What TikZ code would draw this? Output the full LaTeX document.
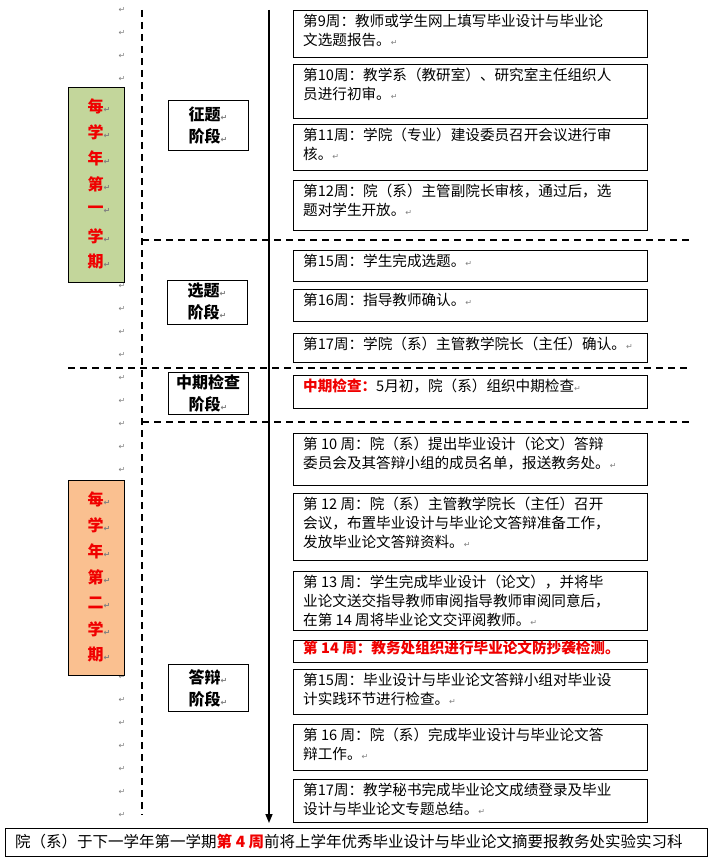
\documentclass[tikz,border=0pt]{standalone}
\usepackage{fontspec}
\setmainfont{Noto Sans CJK SC}
\newfontfamily\djv{DejaVu Sans}
\usetikzlibrary{arrows.meta}
\definecolor{gbox}{HTML}{C3D69B}
\definecolor{obox}{HTML}{FAC090}
\definecolor{rd}{HTML}{F00000}
\newcommand{\pmk}{{\djv\fontsize{8}{8}\selectfont\textcolor{gray}{↵}}}
\tikzset{
 wk/.style={draw,line width=0.8pt,fill=white},
 wt/.style={anchor=north west,align=left,inner sep=0pt,font=\fontsize{14.6}{19}\selectfont},
 stg/.style={draw,line width=0.8pt,fill=white,align=center,font=\bfseries\fontsize{16}{22}\selectfont,inner sep=0pt},
 dsh/.style={dashed,line width=1.3pt,dash pattern=on 7pt off 5pt},
}
\begin{document}
\begin{tikzpicture}[x=1pt,y=-1pt]
\useasboundingbox (0,0) rectangle (714,861);
\fill[white] (0,0) rectangle (714,861);
% margin marks
\foreach \k in {0,...,35}{\node[inner sep=0pt] (pm\k) at (122,{10+23*\k}) {\pmk};}
% dashed lines
\draw[dsh] (142,10) -- (142,815);
\draw[dsh] (142,240) -- (690,240);
\draw[dsh] (68,368) -- (690,368);
\draw[dsh] (142,422) -- (690,422);
% timeline arrow
\coordinate (ta) at (269,10); \coordinate (tb) at (269,823);
\draw[line width=1.5pt,-{Triangle[length=9pt,width=7pt]}] (ta) -- (tb);
% semester boxes
\draw[line width=0.8pt,fill=gbox] (68,87) rectangle (124,282);
\draw[line width=0.8pt,fill=obox] (68,480) rectangle (124,675);
\foreach \c [count=\i] in {每,学,年,第,一,学,期}{
 \node[text=rd,font=\bfseries\fontsize{16}{16}\selectfont] (s1\i) at (99,{106+26*(\i-1)}) {\c\pmk};
}
\foreach \c [count=\i] in {每,学,年,第,二,学,期}{
 \node[text=rd,font=\bfseries\fontsize{16}{16}\selectfont] (s2\i) at (99,{499+26*(\i-1)}) {\c\pmk};
}
% stage boxes
\node[stg,minimum width=80pt,minimum height=50pt] (st1) at (208,125) {征题\pmk\\阶段\pmk};
\node[stg,minimum width=80pt,minimum height=44pt] (st2) at (207,302) {选题\pmk\\阶段\pmk};
\node[stg,minimum width=80pt,minimum height=42pt] (st3) at (208,393) {中期检查\\阶段\pmk};
\node[stg,minimum width=80pt,minimum height=47pt] (st4) at (208,688) {答辩\pmk\\阶段\pmk};
% week boxes
\newcommand{\wb}[4]{\draw[wk] (293,#1) rectangle (647,#2); \node[wt] (#3) at (303,{#1+4}) {#4};}
\wb{10}{57}{w1}{第9周：教师或学生网上填写毕业设计与毕业论\\文选题报告。\pmk}
\wb{64}{118}{w2}{第10周：教学系（教研室）、研究室主任组织人\\员进行初审。\pmk}
\wb{124}{170}{w3}{第11周：学院（专业）建设委员召开会议进行审\\核。\pmk}
\wb{180}{230}{w4}{第12周：院（系）主管副院长审核，通过后，选\\题对学生开放。\pmk}
\wb{250}{281}{w5}{第15周：学生完成选题。\pmk}
\wb{289}{321}{w6}{第16周：指导教师确认。\pmk}
\wb{333}{362}{w7}{第17周：学院（系）主管教学院长（主任）确认。\pmk}
\wb{375}{408}{w8}{\textcolor{rd}{\bfseries 中期检查：}5月初，院（系）组织中期检查\pmk}
\wb{433}{485}{w9}{第 10 周：院（系）提出毕业设计（论文）答辩\\委员会及其答辩小组的成员名单，报送教务处。\pmk}
\wb{493}{560}{w10}{第 12 周：院（系）主管教学院长（主任）召开\\会议，布置毕业设计与毕业论文答辩准备工作，\\发放毕业论文答辩资料。\pmk}
\wb{571}{630}{w11}{第 13 周：学生完成毕业设计（论文），并将毕\\业论文送交指导教师审阅指导教师审阅同意后，\\在第 14 周将毕业论文交评阅教师。\pmk}
\draw[wk] (293,640) rectangle (647,662);
\node[wt,text=rd,font=\bfseries\fontsize{14.6}{19}\selectfont] (w12) at (303,641) {第 14 周：教务处组织进行毕业论文防抄袭检测。};
\wb{669}{714}{w13}{第15周：毕业设计与毕业论文答辩小组对毕业设\\计实践环节进行检查。\pmk}
\wb{724}{770}{w14}{第 16 周：院（系）完成毕业设计与毕业论文答\\辩工作。\pmk}
\wb{779}{822}{w15}{第17周：教学秘书完成毕业论文成绩登录及毕业\\设计与毕业论文专题总结。\pmk}
% bottom box
\draw[line width=0.8pt] (5,828) rectangle (707,856);
\node[anchor=west,inner sep=0pt,font=\fontsize{15.5}{17}\selectfont] (bt) at (15,842) {院（系）于下一学年第一学期\textcolor{rd}{\bfseries 第 4 周}前将上学年优秀毕业设计与毕业论文摘要报教务处实验实习科};
\end{tikzpicture}
\end{document}
